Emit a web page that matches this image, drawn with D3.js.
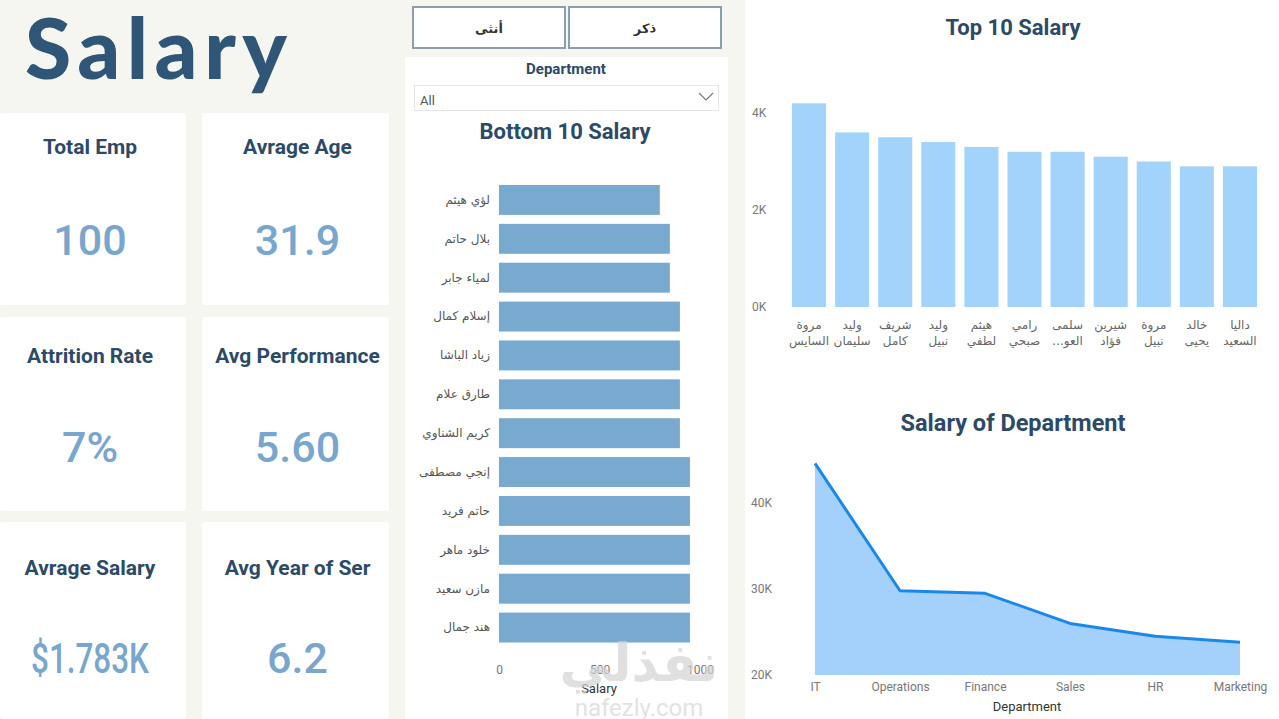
<!DOCTYPE html>
<html><head><meta charset="utf-8">
<script src="https://cdn.jsdelivr.net/npm/d3@7/dist/d3.min.js"></script>
<style>
body{margin:0;background:#f6f6f1;overflow:hidden}
svg{display:block}
</style></head>
<body>
<svg id="c" width="1279" height="719"></svg>
<script>
// ---------- DATA ----------
const kpiTitles = ["Total Emp","Avrage Age","Attrition Rate","Avg Performance","Avrage Salary","Avg Year of Ser"];
const kpiValues = ["100","31.9","7%","5.60","$1.783K","6.2"];
const genderButtons = ["أنثى","ذكر"];
const bottomNames = ["لؤي هيثم","بلال حاتم","لمياء جابر","إسلام كمال","زياد الباشا","طارق علام","كريم الشناوي","إنجي مصطفى","حاتم فريد","خلود ماهر","مازن سعيد","هند جمال"];
const bottomSalary = [800,850,850,900,900,900,900,950,950,950,950,950];
const bottomTicks = [0,500,1000];
const topNames = [["مروة","السايس"],["وليد","سليمان"],["شريف","كامل"],["وليد","نبيل"],["هيثم","لطفي"],["رامي","صبحي"],["سلمى","العو..."],["شيرين","فؤاد"],["مروة","نبيل"],["خالد","يحيى"],["داليا","السعيد"]];
const topSalary = [4200,3600,3500,3400,3300,3200,3200,3100,3000,2900,2900];
const topTicks = [0,2000,4000];
const departments = ["IT","Operations","Finance","Sales","HR","Marketing"];
const deptSalary = [44600,29800,29500,26000,24500,23800];
const deptTicks = [20000,30000,40000];

// ---------- STYLE ----------
const TITLE_FONT = "Roboto, 'DejaVu Sans', sans-serif";
const AR_FONT = "'DejaVu Sans', sans-serif";
const dark = "#2c4a66";
const svg = d3.select("#c");

// ---------- LEFT: title + KPI cards ----------
svg.append("text").attr("x",25).attr("y",79)
  .attr("font-family","Lato, 'DejaVu Sans', sans-serif").attr("font-weight",900)
  .attr("font-size",84).attr("fill","#2f5677")
  .attr("textLength",262).attr("lengthAdjust","spacing").text("Salary");

const cardX = [0,202], cardW = [186,187];
const cardY = [113,317,522], cardH = [192,194,197];
const titleOff = [41,46,53], valueOff = [142,145,151];
kpiTitles.forEach((t,i)=>{
  const c = i%2, r = Math.floor(i/2);
  const g = svg.append("g");
  g.append("rect").attr("x",cardX[c]).attr("y",cardY[r]).attr("width",cardW[c]).attr("height",cardH[r])
    .attr("rx",3).attr("fill","#ffffff");
  const cx = cardX[c]+cardW[c]/2+ (c===0?-3:2);
  g.append("text").attr("x",cx).attr("y",cardY[r]+titleOff[r]).attr("text-anchor","middle")
    .attr("font-family",TITLE_FONT).attr("font-weight",700).attr("font-size",21).attr("fill",dark).text(t);
  const v = g.append("text").attr("x",cx).attr("y",cardY[r]+valueOff[r]).attr("text-anchor","middle")
    .attr("font-family",TITLE_FONT).attr("font-weight",500).attr("font-size",43).attr("fill","#78a6cc").text(kpiValues[i]);
  const w = v.node().getComputedTextLength();
  if (w > 125) v.attr("textLength",118).attr("lengthAdjust","spacingAndGlyphs");
});

// ---------- MIDDLE: buttons, slicer, bottom 10 ----------
const btnX = [413,569];
genderButtons.forEach((b,i)=>{
  svg.append("rect").attr("x",btnX[i]).attr("y",7).attr("width",152).attr("height",41)
    .attr("fill","#fff").attr("stroke","#8d9db0").attr("stroke-width",2);
  svg.append("text").attr("x",btnX[i]+76).attr("y",33).attr("text-anchor","middle")
    .attr("font-family",AR_FONT).attr("font-weight",700).attr("font-size",13).attr("fill","#333").text(b);
});
svg.append("rect").attr("x",405).attr("y",57).attr("width",323).attr("height",662).attr("fill","#fff");
svg.append("text").attr("x",566).attr("y",74).attr("text-anchor","middle")
  .attr("font-family",TITLE_FONT).attr("font-weight",700).attr("font-size",15).attr("fill",dark).text("Department");
svg.append("rect").attr("x",414.5).attr("y",85.5).attr("width",304).attr("height",25)
  .attr("fill","#fff").attr("stroke","#e6e6e6");
svg.append("text").attr("x",420).attr("y",105).attr("font-family",TITLE_FONT)
  .attr("font-size",13).attr("fill","#555").text("All");
svg.append("path").attr("d","M699,93 L706,100 L713,93").attr("fill","none").attr("stroke","#777").attr("stroke-width",1.2);
svg.append("text").attr("x",565).attr("y",139).attr("text-anchor","middle")
  .attr("font-family",TITLE_FONT).attr("font-weight",700).attr("font-size",22).attr("fill",dark).text("Bottom 10 Salary");

const bx = d3.scaleLinear().domain([0,1000]).range([499,700]);
const by = d3.scaleBand().domain(bottomNames).range([180.5,647]).paddingInner(0.23).paddingOuter(0.115);
svg.append("g").selectAll("rect").data(bottomNames).join("rect")
  .attr("x",bx(0)).attr("y",d=>by(d)).attr("height",by.bandwidth())
  .attr("width",(d,i)=>bx(bottomSalary[i])-bx(0)).attr("fill","#78a9cf");
const byAxis = svg.append("g").attr("transform",`translate(${bx(0)},0)`)
  .call(d3.axisLeft(by).tickSize(0).tickPadding(9));
byAxis.select(".domain").remove();
byAxis.selectAll("text").attr("font-family",AR_FONT).attr("font-size",12).attr("fill","#555");
const bxAxis = svg.append("g").attr("transform","translate(0,662)")
  .call(d3.axisBottom(bx).tickValues(bottomTicks).tickSize(0).tickFormat(d3.format("d")));
bxAxis.select(".domain").remove();
bxAxis.selectAll("text").attr("font-family",TITLE_FONT).attr("font-size",12).attr("fill","#777");
svg.append("text").attr("x",599).attr("y",693).attr("text-anchor","middle")
  .attr("font-family",TITLE_FONT).attr("font-size",13).attr("fill","#333").text("Salary");

// ---------- RIGHT: top 10 + department ----------
svg.append("rect").attr("x",745).attr("y",0).attr("width",534).attr("height",719).attr("fill","#fff");
svg.append("text").attr("x",1013).attr("y",35).attr("text-anchor","middle")
  .attr("font-family",TITLE_FONT).attr("font-weight",700).attr("font-size",22).attr("fill",dark).text("Top 10 Salary");

const tx = d3.scaleBand().domain(d3.range(topNames.length)).range([787.5,1261.5]).paddingInner(0.21).paddingOuter(0.105);
const ty = d3.scaleLinear().domain([0,4000]).range([307,113]);
svg.append("g").selectAll("rect").data(topSalary).join("rect")
  .attr("x",(d,i)=>tx(i)).attr("width",tx.bandwidth())
  .attr("y",d=>ty(d)).attr("height",d=>ty(0)-ty(d)).attr("fill","#a1d3fb");
const tyAxis = svg.append("g").attr("transform","translate(752,0)")
  .call(d3.axisLeft(ty).tickValues(topTicks).tickSize(0).tickFormat(d=>d/1000+"K"));
tyAxis.select(".domain").remove();
tyAxis.selectAll("text").attr("text-anchor","start").attr("x",0)
  .attr("font-family",TITLE_FONT).attr("font-size",12).attr("fill","#777");
const txAxis = svg.append("g").attr("transform","translate(0,320)")
  .call(d3.axisBottom(tx).tickSize(0).tickFormat(""));
txAxis.select(".domain").remove();
txAxis.selectAll(".tick").each(function(d){
  const tick = d3.select(this);
  tick.select("text").remove();
  topNames[d].forEach((lineTxt,k)=>{
    const yy = k===0 ? 8.5 : 24.7;
    const ell = lineTxt.endsWith("...");
    const stem = ell ? lineTxt.slice(0,-3) : lineTxt;
    const t = tick.append("text").attr("x",0).attr("y",yy).attr("text-anchor","middle")
      .attr("font-family",AR_FONT).attr("font-size",12).attr("fill","#666").text(stem);
    if (ell) {
      const dots = tick.append("text").attr("y",yy).attr("text-anchor","end")
        .attr("font-family",AR_FONT).attr("font-size",12).attr("fill","#666").text("...");
      const sw = t.node().getComputedTextLength(), dw = dots.node().getComputedTextLength();
      const left = -(sw+dw)/2;
      t.attr("text-anchor","start").attr("x",left+dw);
      dots.attr("x",left+dw);
    }
  });
});

svg.append("text").attr("x",1013).attr("y",431).attr("text-anchor","middle")
  .attr("font-family",TITLE_FONT).attr("font-weight",700).attr("font-size",23.5).attr("fill",dark).text("Salary of Department");

const dx = d3.scalePoint().domain(departments).range([815,1240]);
const dy = d3.scaleLinear().domain([20000,40000]).range([675,503]);
const area = d3.area().x((d,i)=>dx(departments[i])).y0(dy(20000)).y1(d=>dy(d));
const line = d3.line().x((d,i)=>dx(departments[i])).y(d=>dy(d));
svg.append("path").datum(deptSalary).attr("d",area).attr("fill","#a3d1fb");
svg.append("path").datum(deptSalary).attr("d",line).attr("fill","none")
  .attr("stroke","#1a88e8").attr("stroke-width",3).attr("stroke-linejoin","round");
const dyAxis = svg.append("g").attr("transform","translate(751,0)")
  .call(d3.axisLeft(dy).tickValues(deptTicks).tickSize(0).tickFormat(d=>d/1000+"K"));
dyAxis.select(".domain").remove();
dyAxis.selectAll("text").attr("text-anchor","start").attr("x",0)
  .attr("font-family",TITLE_FONT).attr("font-size",12).attr("fill","#777");
const dxAxis = svg.append("g").attr("transform","translate(0,679)")
  .call(d3.axisBottom(dx).tickSize(0));
dxAxis.select(".domain").remove();
dxAxis.selectAll("text").attr("font-family",TITLE_FONT).attr("font-size",12).attr("fill","#777");
svg.append("text").attr("x",1027).attr("y",711).attr("text-anchor","middle")
  .attr("font-family",TITLE_FONT).attr("font-size",13).attr("fill","#333").text("Department");

// ---------- watermark ----------
svg.append("text").attr("x",639).attr("y",681).attr("text-anchor","middle")
  .attr("font-family",AR_FONT).attr("font-weight",700).attr("font-size",52)
  .attr("fill","#d4d4d4").attr("opacity",0.7).text("نفذلي");
svg.append("text").attr("x",639).attr("y",716).attr("text-anchor","middle")
  .attr("font-family",TITLE_FONT).attr("font-size",24)
  .attr("fill","#dcdcdc").attr("opacity",0.8).text("nafezly.com");
</script>
</body></html>
